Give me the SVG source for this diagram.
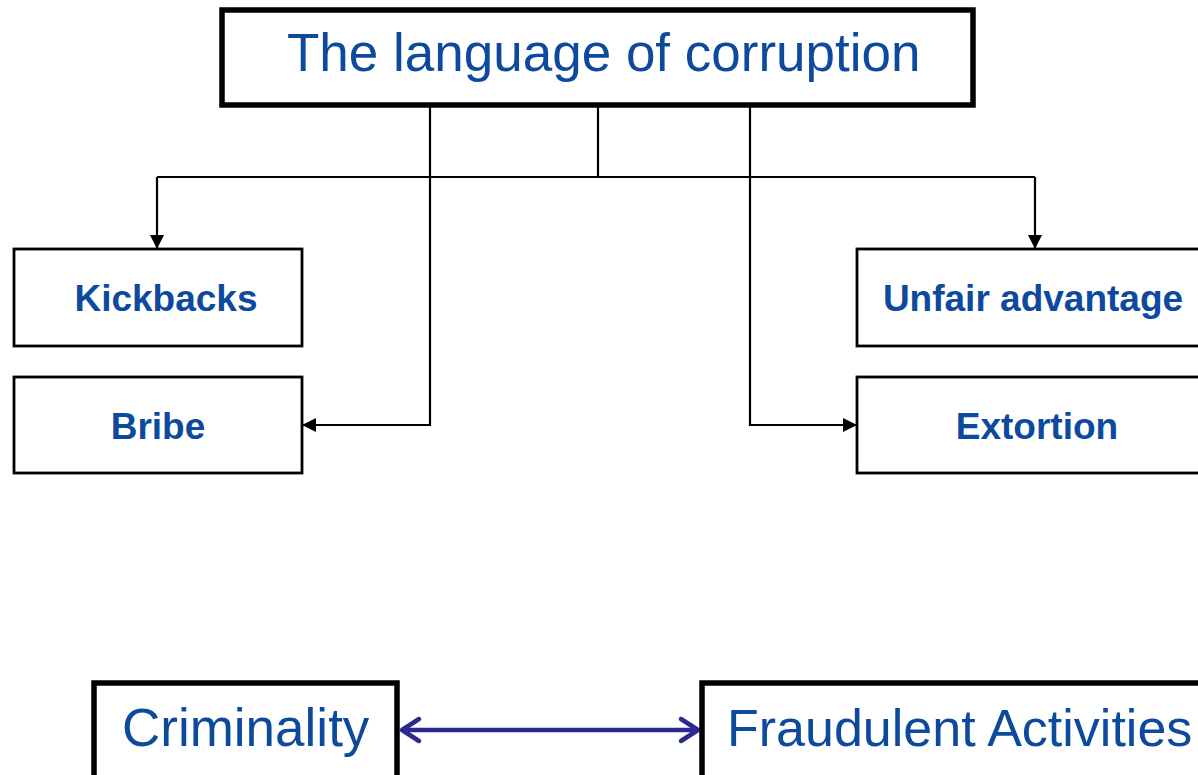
<svg xmlns="http://www.w3.org/2000/svg" width="1198" height="775" viewBox="0 0 1198 775">
<style>
.box{fill:#fff;stroke:#000}
.thick{stroke-width:5.5}
.thin{stroke-width:2.8}
.big{font-family:"Liberation Sans",Arial,sans-serif;font-size:53px;fill:#0d4a9e}
.lbl{font-family:"Liberation Sans",Arial,sans-serif;font-size:37px;font-weight:bold;fill:#0d4a9e;text-anchor:middle}
.con{fill:none;stroke:#000;stroke-width:2.2}
.dbl{fill:none;stroke:#2b2a8f;stroke-width:4.5}
</style>
<defs>
<marker id="ah" viewBox="0 0 14 14" refX="14" refY="7" markerWidth="14" markerHeight="14" markerUnits="userSpaceOnUse" orient="auto">
<path d="M0,0 L14,7 L0,14 Z" fill="#000"/>
</marker>
</defs>
<rect width="1198" height="775" fill="#fff"/>
<g id="connectors">
<path class="con" d="M598,107 V177"/>
<path class="con" d="M157,177 H1035"/>
<path class="con" d="M157,177 V249" marker-end="url(#ah)"/>
<path class="con" d="M1035,177 V249" marker-end="url(#ah)"/>
<path class="con" d="M430,107 V425 H302" marker-end="url(#ah)"/>
<path class="con" d="M750,107 V425 H857" marker-end="url(#ah)"/>
<g id="double-arrow">
<path class="dbl" d="M402,730 H698"/>
<path class="dbl" d="M419,719 L402,730 L419,741" stroke-linecap="round" stroke-linejoin="round"/>
<path class="dbl" d="M681,719 L698,730 L681,741" stroke-linecap="round" stroke-linejoin="round"/>
</g>
</g>
<g id="title">
<rect class="box thick" x="222" y="10" width="751" height="95"/>
<text class="big" x="287" y="71">The language of corruption</text>
</g>
<g id="kickbacks">
<rect class="box thin" x="14" y="249" width="288" height="97"/>
<text class="lbl" x="166" y="311">Kickbacks</text>
</g>
<g id="bribe">
<rect class="box thin" x="14" y="377" width="288" height="96"/>
<text class="lbl" x="158" y="439">Bribe</text>
</g>
<g id="unfair-advantage">
<rect class="box thin" x="857" y="249" width="360" height="97"/>
<text class="lbl" x="1033" y="311">Unfair advantage</text>
</g>
<g id="extortion">
<rect class="box thin" x="857" y="377" width="360" height="96"/>
<text class="lbl" x="1037" y="439">Extortion</text>
</g>
<g id="criminality">
<rect class="box thick" x="94" y="683" width="303" height="110"/>
<text class="big" x="122" y="746">Criminality</text>
</g>
<g id="fraudulent-activities">
<rect class="box thick" x="702" y="683" width="520" height="110"/>
<text class="big" x="727" y="746" style="font-size:52px">Fraudulent Activities</text>
</g>
</svg>
